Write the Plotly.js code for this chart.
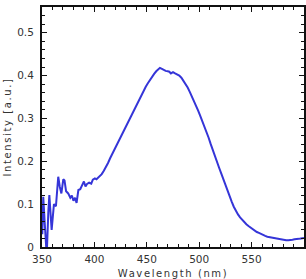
<!DOCTYPE html>
<html><head><meta charset="utf-8">
<script src="https://cdn.plot.ly/plotly-3.0.1.min.js"></script>
<style>html,body{margin:0;padding:0;background:#fff}#chart{width:306px;height:279px}</style>
</head><body><div id="chart"></div>
<script>
const wavelength = [350.3,351.2,352.5,354.5,356,357,359.2,361.4,363.3,365.5,367,368.5,370.3,371.5,373,375,377,378.5,380,381.5,383,384.7,386.5,388,390,391.5,393,395,397,398.5,400.5,402,403.5,405,407,409,411,413,415,417,419,421,423,425,427,429,431,433,435,437,439,441,443,445,447,449,451,453,455,457,459,461,462.5,464,466,468,470,471.5,473,475,477,479,481,483,485,487,489,491,493,495,497,499,501,503,505,507,509,511,513,515,517,519,521,523,525,527,529,531,533,535,537,539,541,543,545,547,549,551,553,555,557,559,561,563,565,567,569,571,573,575,577,579,581,583,585,587,589,591,593,595,597,599,600];
const intensity = [0.03,0.117,0.06,-0.02,0.08,0.121,0.04,0.10,0.095,0.164,0.14,0.125,0.158,0.155,0.13,0.125,0.115,0.12,0.108,0.115,0.103,0.133,0.135,0.143,0.153,0.141,0.147,0.15,0.148,0.157,0.16,0.158,0.162,0.164,0.17,0.178,0.186,0.196,0.207,0.217,0.226,0.235,0.246,0.256,0.266,0.276,0.285,0.295,0.304,0.314,0.324,0.334,0.344,0.355,0.365,0.374,0.382,0.39,0.397,0.404,0.41,0.416,0.418,0.416,0.413,0.411,0.41,0.409,0.405,0.408,0.405,0.403,0.4,0.395,0.388,0.38,0.372,0.362,0.352,0.342,0.33,0.318,0.306,0.294,0.281,0.268,0.255,0.24,0.225,0.211,0.198,0.185,0.172,0.158,0.145,0.132,0.119,0.106,0.094,0.084,0.076,0.069,0.063,0.057,0.053,0.049,0.045,0.041,0.037,0.035,0.033,0.03,0.028,0.026,0.024,0.023,0.022,0.021,0.02,0.019,0.018,0.017,0.016,0.016,0.016,0.016,0.017,0.018,0.018,0.019,0.02,0.021,0.021];
const xTickVals = [350,400,450,500,550];
const yTickVals = [0,0.1,0.2,0.3,0.4,0.5];
const yTickText = ['0','0.1','0.2','0.3','0.4','0.5'];
const xTitle = 'Wavelength (nm)';
const yTitle = 'Intensity [a.u.]';

const font = {family:'DejaVu Sans', size:10.5, color:'#333'};
const axisCommon = {
  showline:true, linecolor:'#111', linewidth:2, mirror:'allticks',
  ticks:'inside', ticklen:5, tickwidth:1, tickcolor:'#111',
  showgrid:false, zeroline:false, tickfont:font
};
const layout = {
  width:306, height:279,
  margin:{l:42, r:2, t:7, b:32},
  paper_bgcolor:'#fff', plot_bgcolor:'#fff',
  showlegend:false,
  xaxis:Object.assign({}, axisCommon, {
    range:[350,600], tickvals:xTickVals, ticktext:xTickVals.map(String),
    minor:{dtick:10, tick0:350, ticks:'inside', ticklen:3, tickcolor:'#111'},
    ticklabelstandoff:1,
    title:{text:xTitle, font:{family:'DejaVu Sans', size:10, color:'#333'}, standoff:8}
  }),
  yaxis:Object.assign({}, axisCommon, {
    range:[0,0.56], tickvals:yTickVals, ticktext:yTickText,
    minor:{dtick:0.02, tick0:0, ticks:'inside', ticklen:3, tickcolor:'#111'},
    ticklabelstandoff:4,
    title:{text:yTitle, font:{family:'DejaVu Sans', size:10, color:'#333'}, standoff:4}
  })
};
const trace = {x:wavelength, y:intensity, type:'scatter', mode:'lines',
  line:{color:'#3535d8', width:2}};
Plotly.newPlot('chart',[trace],layout,{staticPlot:true}).then(()=>{
  document.querySelectorAll('.xtitle, .ytitle').forEach(e=>e.setAttribute('letter-spacing','1.6px'));
});
</script></body></html>
